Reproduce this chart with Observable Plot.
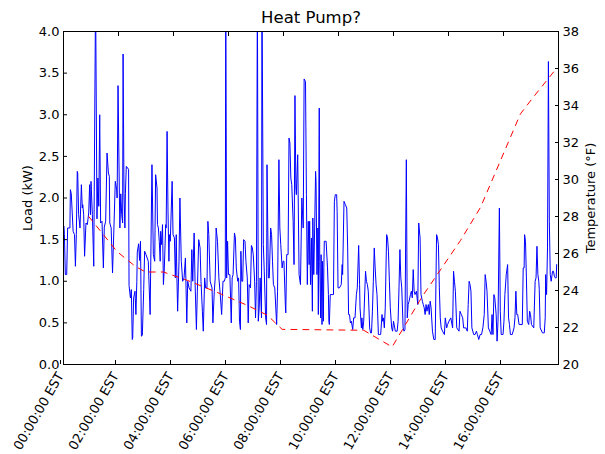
<!DOCTYPE html>
<html><head><meta charset="utf-8">
<script src="https://cdn.jsdelivr.net/npm/d3@7"></script>
<script src="https://cdn.jsdelivr.net/npm/@observablehq/plot@0.6"></script>
<style>body{margin:0;background:#fff;} svg{display:block}</style>
</head><body><div id="chart"></div>
<script>
const title = "Heat Pump?";
const yLabel = "Load (kW)";
const y2Label = "Temperature (°F)";
const xTickMinutes = [0, 120, 240, 360, 480, 600, 720, 840, 960];
const loadTicks = [0, 0.5, 1, 1.5, 2, 2.5, 3, 3.5, 4];
const tempTicks = [20, 22, 24, 26, 28, 30, 32, 34, 36, 38];

// Load (kW), minutes after midnight
const loadMinutes = [
1,2,4,7,9,14,15,17,21,24,26,28,30,31,33,36,39,41,42,44,46,49,52,55,57,59,60,63,66,70,73,75,77,79,81,84,87,89,92,95,98,100,101,104,107,110,113,116,117,119,122,123,125,127,129,130,132,134,135,137,140,142,143,146,148,150,151,153,156,158,160,161,164,166,168,170,172,175,177,
180,185,188,189,193,196,199,201,204,205,207,209,211,212,214,216,218,220,223,224,226,228,230,231,233,237,239,242,244,246,247,249,252,254,257,260,263,266,269,271,274,278,280,282,285,287,290,292,295,298,300,303,305,308,310,313,315,317,320,324,326,329,331,333,336,339,342,345,348,351,353,354,356,
358,360,363,366,368,370,373,375,377,380,382,384,386,387,389,391,393,396,398,401,403,405,408,410,412,414,417,419,421,423,425,427,429,432,433,436,438,441,443,444,447,449,452,454,456,458,461,465,467,470,472,474,477,479,481,484,485,487,490,492,494,496,498,501,503,505,507,508,511,512,514,517,520,523,525,528,530,532,534,536,
537,539,541,543,544,546,548,550,551,553,555,556,558,559,561,562,564,565,567,568,569,573,576,578,579,580,582,586,589,591,593,596,597,599,602,606,608,609,612,615,618,620,622,624,626,628,631,633,636,639,641,644,646,647,650,651,653,655,659,661,663,665,668,670,672,674,676,678,680,682,684,687,689,692,695,696,698,700,702,705,707,709,711,713,716,718,720,
724,728,730,732,734,736,738,741,743,745,748,750,752,754,757,759,761,763,765,767,770,773,775,776,778,780,783,785,787,789,791,793,796,798,800,802,805,808,811,814,816,818,820,822,824,827,831,833,836,838,841,845,849,851,853,855,858,863,865,868,871,873,878,881,883,885,887,889,891,895,898,901,
903,906,909,912,915,918,920,922,924,927,930,933,935,937,939,941,944,946,948,951,953,955,959,961,963,966,969,971,973,975,979,983,985,987,989,991,994,1001,1003,1005,1006,1008,1010,1012,1015,1017,1019,1021,1026,1029,1031,1033,1035,1037,1038,1040,1045,1049,1051,1052,1054,1056,1058,1060,1062,1064,1067,1069,1071,1073,1075,1076
];
const loadKw = [
1.66,1.56,1.08,1.08,1.64,1.64,2.1,2.05,1.6,1.56,1.18,1.56,2.32,2.3,1.8,1.64,2.16,1.88,1.92,1.8,1.3,1.7,1.68,1.82,2.16,1.8,2.2,1.8,1.18,4.5,1.75,2.24,1.9,3.0,1.7,1.72,1.16,1.65,1.72,2.54,2.3,2.26,1.7,1.64,1.1,1.64,2.2,2.1,2.0,3.35,2.0,1.64,2.05,1.8,1.7,3.73,2.05,1.64,2.05,2.38,2.36,2.34,0.95,0.8,0.9,0.3,0.32,0.8,0.88,0.6,1.0,1.35,1.45,1.25,1.48,0.34,0.35,0.9,1.36,
1.32,1.24,0.76,0.6,2.4,1.32,1.24,2.28,2.12,1.68,1.64,1.48,1.24,1.6,1.44,1.68,0.96,1.16,1.68,1.64,2.8,1.84,1.24,1.56,1.48,2.2,1.56,1.52,1.04,1.56,1.16,0.64,1.24,2.0,1.24,1.0,1.04,1.28,0.5,1.0,0.92,0.88,1.38,1.0,1.58,1.0,0.42,0.88,1.5,1.4,1.0,0.64,0.4,1.04,0.92,0.92,1.72,1.56,1.0,0.92,0.5,0.88,1.04,1.64,1.48,1.04,0.84,0.6,1.0,1.0,1.04,4.5,1.04,
1.48,1.08,1.08,0.5,1.04,1.08,1.58,1.52,1.16,1.0,1.04,0.52,0.42,1.36,1.0,1.0,1.5,1.48,1.24,1.04,0.5,0.96,0.92,1.43,1.4,1.32,1.0,0.56,1.0,4.5,0.52,0.68,1.04,0.56,4.5,1.44,1.12,0.56,0.48,2.4,1.04,1.04,1.64,1.56,1.24,0.96,0.92,0.48,0.88,2.46,1.64,1.44,1.16,1.24,1.24,0.72,0.62,1.32,1.32,2.72,2.66,2.24,2.16,1.72,1.2,3.23,2.12,2.04,2.52,2.04,1.08,0.96,2.0,1.64,3.43,3.4,2.04,0.96,1.72,1.2,
1.72,0.96,1.52,0.64,1.76,1.08,1.64,2.32,2.2,1.08,1.64,0.6,3.08,1.24,0.56,1.32,0.48,1.24,0.52,1.16,1.48,1.48,1.16,0.84,0.52,0.48,0.84,0.84,0.84,1.96,2.04,2.04,1.84,0.92,0.92,0.96,1.2,1.08,1.96,1.92,1.88,1.4,0.6,0.6,0.5,0.52,0.42,0.56,0.56,0.84,0.92,1.43,0.96,0.68,0.44,0.56,0.42,0.52,1.12,1.0,0.96,0.88,0.44,0.38,0.38,0.64,1.0,1.4,1.16,0.96,0.84,0.36,0.36,0.36,0.6,0.52,0.56,0.44,0.68,1.56,1.52,1.36,1.0,0.68,0.44,0.4,0.52,
0.4,0.4,0.52,0.92,1.38,1.04,0.92,0.44,0.4,0.42,2.46,0.56,0.72,0.76,0.84,0.88,0.8,1.14,0.88,0.84,0.88,0.72,1.7,1.64,1.52,0.84,0.76,0.72,0.68,0.6,0.72,0.64,0.72,0.6,0.76,0.68,0.4,0.3,0.3,1.56,1.52,1.44,0.92,0.56,0.44,0.4,0.36,0.56,0.44,0.48,0.52,0.56,0.44,1.12,1.0,0.88,0.44,0.4,0.64,0.6,0.56,0.44,0.44,0.4,0.72,1.0,0.96,0.88,0.44,0.36,0.36,0.4,
0.36,0.3,0.36,0.36,0.44,0.6,1.08,1.0,0.88,0.44,0.4,0.36,0.6,0.36,0.84,0.8,0.6,0.28,0.52,1.88,0.64,0.36,0.36,0.52,0.84,1.08,1.2,0.56,0.48,0.36,0.36,0.44,0.56,0.88,0.6,0.6,0.48,0.48,1.16,1.16,1.56,1.48,1.04,0.52,0.48,0.64,0.6,0.48,0.44,1.0,1.04,1.42,1.08,1.0,0.9,0.44,0.38,0.38,0.56,1.08,0.84,1.4,3.64,1.72,1.08,1.0,1.12,1.12,1.06,1.04,1.04,1.2
];

// Outdoor temperature (°F), minutes after midnight
const tempMinutes = [55, 117, 157, 179, 218, 270, 335, 401, 445, 477, 655, 717, 782, 822, 866, 910, 953, 997, 1025, 1077];
const tempF = [28.0, 26.1, 25.3, 25.0, 25.0, 24.55, 23.9, 23.2, 22.66, 21.9, 21.85, 20.95, 23.65, 25.1, 26.7, 28.5, 31.0, 33.55, 34.45, 36.05];

const tempMin = 20, tempMax = 38, loadMax = 4;
const toLoad = t => (t - tempMin) / (tempMax - tempMin) * loadMax;
const fromLoad = v => tempMin + v / loadMax * (tempMax - tempMin);
const loadData = loadMinutes.map((m, i) => ({m, kw: loadKw[i]}));
const tempData = tempMinutes.map((m, i) => ({m, f: tempF[i]}));
const fmtTime = m => String(Math.floor(m / 60)).padStart(2, "0") + ":00:00 EST";

const chart = Plot.plot({
  width: 605, height: 454,
  marginLeft: 63, marginRight: 47, marginTop: 31, marginBottom: 90,
  style: {fontFamily: "'DejaVu Sans', sans-serif", fontSize: "13px", background: "#fff", color: "#000"},
  x: {domain: [0, 1080]},
  y: {domain: [0, 4]},
  marks: [
    Plot.line(loadData, {x: "m", y: "kw", stroke: "#0000ff", strokeWidth: 1, clip: true}),
    Plot.line(tempData, {x: "m", y: d => toLoad(d.f), stroke: "#ff0000", strokeWidth: 1, strokeDasharray: "6,6", clip: true}),
    Plot.frame({stroke: "#000", strokeWidth: 1}),
    Plot.axisY(loadTicks, {anchor: "left", tickSize: -4, tickPadding: 8, tickFormat: d3.format(".1f"), label: null, fontSize: 13}),
    Plot.axisY(tempTicks.map(toLoad), {anchor: "right", tickSize: -4, tickPadding: 8, tickFormat: d => String(Math.round(fromLoad(d))), label: null, fontSize: 13}),
    Plot.axisX(xTickMinutes, {anchor: "bottom", tickSize: -4, tickPadding: 13, dx: -3, tickRotate: -60, tickFormat: fmtTime, label: null, fontSize: 13}),
    Plot.axisX(xTickMinutes, {anchor: "top", tickSize: -4, tickFormat: () => "", label: null}),
    Plot.text([title], {frameAnchor: "top", dy: -9, textAnchor: "middle", lineAnchor: "bottom", fontSize: 16.5}),
    Plot.text([yLabel], {frameAnchor: "left", dx: -36, rotate: -90, textAnchor: "middle", lineAnchor: "middle", fontSize: 13}),
    Plot.text([y2Label], {frameAnchor: "right", dx: 32, rotate: -90, textAnchor: "middle", lineAnchor: "middle", fontSize: 13})
  ]
});
document.getElementById("chart").appendChild(chart);
</script>
</body></html>
